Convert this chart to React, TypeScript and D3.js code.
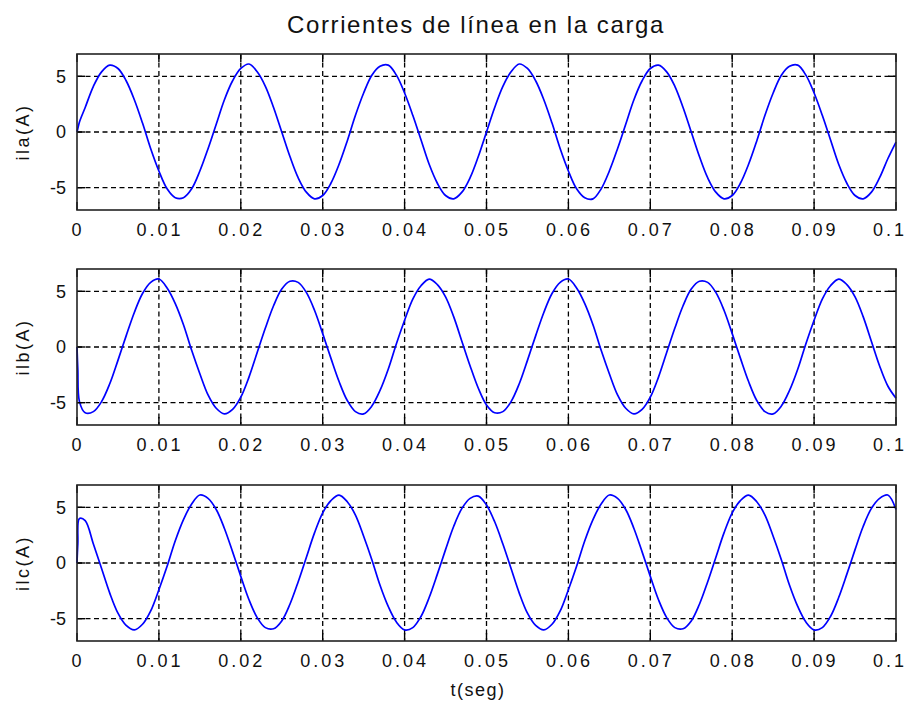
import React, { useEffect, useRef } from 'react';
import * as d3 from 'd3';

// sample times (s)
const time = [0, 0.0001, 0.0003,
  0.001, 0.002, 0.003, 0.004, 0.005, 0.006, 0.007, 0.008, 0.009, 0.010,
  0.011, 0.012, 0.013, 0.014, 0.015, 0.016, 0.017, 0.018, 0.019, 0.020,
  0.021, 0.022, 0.023, 0.024, 0.025, 0.026, 0.027, 0.028, 0.029, 0.030,
  0.031, 0.032, 0.033, 0.034, 0.035, 0.036, 0.037, 0.038, 0.039, 0.040,
  0.041, 0.042, 0.043, 0.044, 0.045, 0.046, 0.047, 0.048, 0.049, 0.050,
  0.051, 0.052, 0.053, 0.054, 0.055, 0.056, 0.057, 0.058, 0.059, 0.060,
  0.061, 0.062, 0.063, 0.064, 0.065, 0.066, 0.067, 0.068, 0.069, 0.070,
  0.071, 0.072, 0.073, 0.074, 0.075, 0.076, 0.077, 0.078, 0.079, 0.080,
  0.081, 0.082, 0.083, 0.084, 0.085, 0.086, 0.087, 0.088, 0.089, 0.090,
  0.091, 0.092, 0.093, 0.094, 0.095, 0.096, 0.097, 0.098, 0.099, 0.100];

const ila = [0, 0.3, 0.9,
  2.2, 4.1, 5.4, 6.0, 5.7, 4.6, 2.9, 0.8, -1.5, -3.5,
  -5.1, -5.9, -5.9, -5.1, -3.5, -1.5, 0.7, 2.9, 4.6, 5.7,
  6.1, 5.4, 4.1, 2.2, 0.0, -2.2, -4.1, -5.4, -6.0, -5.7,
  -4.6, -2.9, -0.8, 1.5, 3.5, 5.1, 5.9, 6.0, 5.1, 3.5,
  1.5, -0.7, -2.9, -4.6, -5.7, -6.0, -5.4, -4.1, -2.2, 0.0,
  2.2, 4.1, 5.4, 6.1, 5.7, 4.6, 2.9, 0.8, -1.5, -3.5,
  -5.1, -5.9, -6.0, -5.1, -3.5, -1.5, 0.7, 2.9, 4.6, 5.7,
  6.0, 5.4, 4.1, 2.2, 0.0, -2.2, -4.1, -5.4, -6.0, -5.7,
  -4.6, -2.9, -0.8, 1.5, 3.5, 5.1, 5.9, 6.0, 5.1, 3.5,
  1.5, -0.7, -2.9, -4.6, -5.7, -6.0, -5.4, -4.1, -2.4, -0.9];

const ilb = [0, -2.0, -4.9,
  -5.9, -5.8, -4.9, -3.3, -1.2, 1.0, 3.1, 4.8, 5.8, 6.1,
  5.3, 3.9, 2.0, -0.3, -2.4, -4.3, -5.5, -6.0, -5.6, -4.5,
  -2.7, -0.5, 1.7, 3.7, 5.2, 5.9, 5.8, 4.9, 3.3, 1.2,
  -1.0, -3.1, -4.8, -5.8, -6.0, -5.3, -3.9, -2.0, 0.3, 2.4,
  4.3, 5.5, 6.1, 5.6, 4.5, 2.7, 0.5, -1.7, -3.7, -5.2,
  -5.9, -5.8, -4.9, -3.3, -1.2, 1.0, 3.1, 4.8, 5.8, 6.1,
  5.3, 3.9, 2.0, -0.3, -2.4, -4.3, -5.5, -6.0, -5.6, -4.5,
  -2.7, -0.5, 1.7, 3.7, 5.2, 5.9, 5.8, 4.9, 3.3, 1.2,
  -1.0, -3.1, -4.8, -5.8, -6.0, -5.3, -3.9, -2.0, 0.3, 2.4,
  4.3, 5.5, 6.1, 5.6, 4.5, 2.7, 0.5, -1.7, -3.5, -4.6];

const ilc = [0, 1.7, 4.0,
  3.8, 1.7, -0.5, -2.7, -4.5, -5.6, -6.0, -5.5, -4.3, -2.4,
  -0.3, 2.0, 3.9, 5.3, 6.1, 5.8, 4.8, 3.1, 1.0, -1.2,
  -3.3, -4.9, -5.8, -5.9, -5.2, -3.7, -1.7, 0.5, 2.7, 4.5,
  5.6, 6.1, 5.5, 4.3, 2.4, 0.3, -2.0, -3.9, -5.3, -6.0,
  -5.8, -4.8, -3.1, -1.0, 1.2, 3.3, 4.9, 5.8, 6.0, 5.2,
  3.7, 1.7, -0.5, -2.7, -4.5, -5.6, -6.0, -5.5, -4.3, -2.4,
  -0.3, 2.0, 3.9, 5.3, 6.1, 5.8, 4.8, 3.1, 1.0, -1.2,
  -3.3, -4.9, -5.8, -5.9, -5.2, -3.7, -1.7, 0.5, 2.7, 4.5,
  5.6, 6.1, 5.5, 4.3, 2.4, 0.3, -2.0, -3.9, -5.3, -6.0,
  -5.8, -4.8, -3.1, -1.0, 1.2, 3.3, 4.9, 5.8, 6.1, 4.8];

const seriesNames = ['ila(A)', 'ilb(A)', 'ilc(A)'];
const seriesValues = [ila, ilb, ilc];
const xTicks = [0, 0.01, 0.02, 0.03, 0.04, 0.05, 0.06, 0.07, 0.08, 0.09, 0.1];
const yTicks = [-5, 0, 5];
const titleText = 'Corrientes de línea en la carga';
const xLabelText = 't(seg)';

const W = 912, H = 702;
const left = 77, right = 896;
const tops = [54, 269, 485];
const plotH = 156;
const FONT = '"Liberation Sans", Arial, Helvetica, sans-serif';

export default function App() {
  const svgRef = useRef<SVGSVGElement>(null);

  useEffect(() => {
    const svg = d3.select(svgRef.current);
    svg.selectAll('*').remove();

    svg.append('rect').attr('width', W).attr('height', H).attr('fill', '#fff');

    const x = d3.scaleLinear().domain([0, 0.1]).range([left, right]);

    svg.append('text')
      .attr('x', 476).attr('y', 33)
      .attr('text-anchor', 'middle')
      .attr('font-family', FONT).attr('font-size', 24)
      .attr('letter-spacing', 1.6)
      .attr('fill', '#111')
      .text(titleText);

    seriesValues.forEach((vals, si) => {
      const top = tops[si];
      const y = d3.scaleLinear().domain([-7, 7]).range([top + plotH, top]);
      const g = svg.append('g');

      // grid
      g.selectAll('line.gx').data(xTicks.slice(1, -1)).enter().append('line')
        .attr('x1', d => x(d)).attr('x2', d => x(d))
        .attr('y1', top).attr('y2', top + plotH)
        .attr('stroke', '#000').attr('stroke-width', 1.3)
        .attr('stroke-dasharray', '5,3.5');
      g.selectAll('line.gy').data(yTicks).enter().append('line')
        .attr('x1', left).attr('x2', right)
        .attr('y1', d => y(d)).attr('y2', d => y(d))
        .attr('stroke', '#000').attr('stroke-width', 1.3)
        .attr('stroke-dasharray', '5,3.5');

      // curve
      const line = d3.line<number>()
        .x((_, i) => x(time[i]))
        .y(d => y(d))
        .curve(d3.curveCatmullRom.alpha(0.5));
      g.append('path')
        .attr('d', line(vals))
        .attr('fill', 'none')
        .attr('stroke', '#0000ff')
        .attr('stroke-width', 1.7)
        .attr('stroke-linejoin', 'round');

      // ticks
      const tl = 8;
      xTicks.forEach(t => {
        g.append('line').attr('x1', x(t)).attr('x2', x(t)).attr('y1', top).attr('y2', top + tl)
          .attr('stroke', '#000').attr('stroke-width', 1.4);
        g.append('line').attr('x1', x(t)).attr('x2', x(t)).attr('y1', top + plotH).attr('y2', top + plotH - tl)
          .attr('stroke', '#000').attr('stroke-width', 1.4);
      });
      yTicks.forEach(v => {
        g.append('line').attr('x1', left).attr('x2', left + tl).attr('y1', y(v)).attr('y2', y(v))
          .attr('stroke', '#000').attr('stroke-width', 1.4);
        g.append('line').attr('x1', right).attr('x2', right - tl).attr('y1', y(v)).attr('y2', y(v))
          .attr('stroke', '#000').attr('stroke-width', 1.4);
      });

      // box
      g.append('rect')
        .attr('x', left).attr('y', top).attr('width', right - left).attr('height', plotH)
        .attr('fill', 'none').attr('stroke', '#222').attr('stroke-width', 1.6);

      // tick labels (last one kept inside the page edge)
      const lastTick = xTicks[xTicks.length - 1];
      g.selectAll('text.xt').data(xTicks).enter().append('text')
        .attr('x', d => (d === lastTick ? W - 5 : x(d) + 1))
        .attr('y', top + plotH + 26)
        .attr('text-anchor', d => (d === lastTick ? 'end' : 'middle'))
        .attr('font-family', FONT).attr('font-size', 18)
        .attr('letter-spacing', 3)
        .attr('fill', '#111')
        .text(d => d3.format('~g')(d));
      g.selectAll('text.yt').data(yTicks).enter().append('text')
        .attr('x', 66).attr('y', d => y(d))
        .attr('dy', '0.36em')
        .attr('text-anchor', 'end')
        .attr('font-family', FONT).attr('font-size', 18)
        .attr('fill', '#111')
        .text(d => String(d));

      // y label
      g.append('text')
        .attr('transform', `translate(23,${top + plotH / 2}) rotate(-90)`)
        .attr('text-anchor', 'middle')
        .attr('dy', '0.36em')
        .attr('font-family', FONT).attr('font-size', 18)
        .attr('letter-spacing', 2.5)
        .attr('fill', '#111')
        .text(seriesNames[si]);
    });

    svg.append('text')
      .attr('x', 478).attr('y', 696)
      .attr('text-anchor', 'middle')
      .attr('font-family', FONT).attr('font-size', 18)
      .attr('letter-spacing', 1.5)
      .attr('fill', '#111')
      .text(xLabelText);
  }, []);

  return (
    <svg ref={svgRef} width={W} height={H}
      style={{ position: 'absolute', left: 0, top: 0, display: 'block' }} />
  );
}
